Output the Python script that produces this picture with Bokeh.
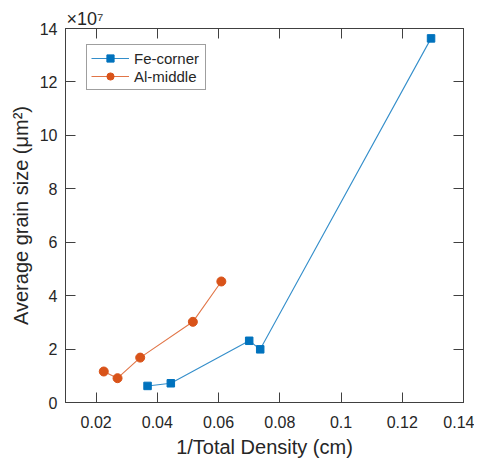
from bokeh.plotting import figure
from bokeh.models import (Range1d, LinearAxis, FixedTicker, CustomJSTickFormatter,
                          Legend, LegendItem)
from bokeh.embed import file_html
from bokeh.resources import INLINE

# Data
fe_x = [0.0368, 0.0444, 0.0700, 0.0736, 0.1294]
fe_y = [0.62e7, 0.72e7, 2.31e7, 1.99e7, 13.63e7]
al_x = [0.0225, 0.0270, 0.0344, 0.0516, 0.0609]
al_y = [1.16e7, 0.91e7, 1.68e7, 3.02e7, 4.53e7]
x_ticks = [0.02, 0.04, 0.06, 0.08, 0.1, 0.12, 0.14]
y_ticks = [0, 2e7, 4e7, 6e7, 8e7, 10e7, 12e7, 14e7]

BLUE = "#0072BD"
ORANGE = "#D95319"
TXT = "#262626"
AX = "#404040"
FONT = "Liberation Sans"

p = figure(width=474, height=460, output_backend="svg", toolbar_location=None,
           x_range=Range1d(0.01, 0.14), y_range=Range1d(0, 14e7),
           min_border_left=65, min_border_right=11, min_border_top=28, min_border_bottom=56,
           title="×10⁷")
p.grid.visible = False
p.outline_line_color = AX
p.title.text_font = FONT
p.title.text_font_size = "18px"
p.title.text_font_style = "normal"
p.title.text_color = TXT
p.title.standoff = 0
p.title.offset = 1

xt = FixedTicker(ticks=x_ticks)
yt = FixedTicker(ticks=y_ticks)

for ax in p.xaxis:
    ax.ticker = xt
for ax in p.yaxis:
    ax.ticker = yt
    ax.formatter = CustomJSTickFormatter(code="return (tick/1e7).toFixed(0)")

for ax in p.axis:
    ax.major_tick_in = 10
    ax.major_tick_out = 0
    ax.minor_tick_line_color = None
    ax.axis_line_color = AX
    ax.major_tick_line_color = AX
    ax.major_label_text_font = FONT
    ax.major_label_text_font_size = "16px"
    ax.major_label_text_color = TXT
    ax.axis_label_text_font = FONT
    ax.axis_label_text_font_size = "20px"
    ax.axis_label_text_font_style = "normal"
    ax.axis_label_text_color = TXT

p.xaxis.axis_label = "1/Total Density (cm)"
p.yaxis.axis_label = "Average grain size (μm²)"
p.xaxis.major_label_standoff = 13
p.yaxis.major_label_standoff = 8
p.xaxis.axis_label_standoff = 5
p.yaxis.axis_label_standoff = 5

blank = CustomJSTickFormatter(code="return ''")
top = LinearAxis(ticker=xt, formatter=blank, major_tick_in=10, major_tick_out=0,
                 minor_tick_line_color=None, axis_line_color=AX, major_tick_line_color=AX,
                 major_label_standoff=0)
right = LinearAxis(ticker=yt, formatter=blank, major_tick_in=10, major_tick_out=0,
                   minor_tick_line_color=None, axis_line_color=AX, major_tick_line_color=AX,
                   major_label_standoff=0)
p.add_layout(top, "above")
p.add_layout(right, "right")

fl = p.line(fe_x, fe_y, line_color=BLUE, line_width=1.1, line_alpha=0.8)
fs = p.scatter(fe_x, fe_y, marker="square", size=7.5, fill_color=BLUE, line_color=BLUE)
al = p.line(al_x, al_y, line_color=ORANGE, line_width=1.1, line_alpha=0.8)
ac = p.scatter(al_x, al_y, marker="circle", size=9, fill_color=ORANGE, line_color=ORANGE)

legend = Legend(items=[LegendItem(label="Fe-corner", renderers=[fl, fs]),
                       LegendItem(label="Al-middle", renderers=[al, ac])],
                location=(21, 312), label_text_font=FONT, label_text_font_size="15px",
                label_text_color=TXT, glyph_width=38, glyph_height=18, label_height=18,
                label_width=67, spacing=0, padding=4, margin=0, label_standoff=5,
                border_line_color=AX, border_line_width=1, background_fill_alpha=1)
p.add_layout(legend, "center")

open("out.html", "w").write(file_html(p, INLINE))
